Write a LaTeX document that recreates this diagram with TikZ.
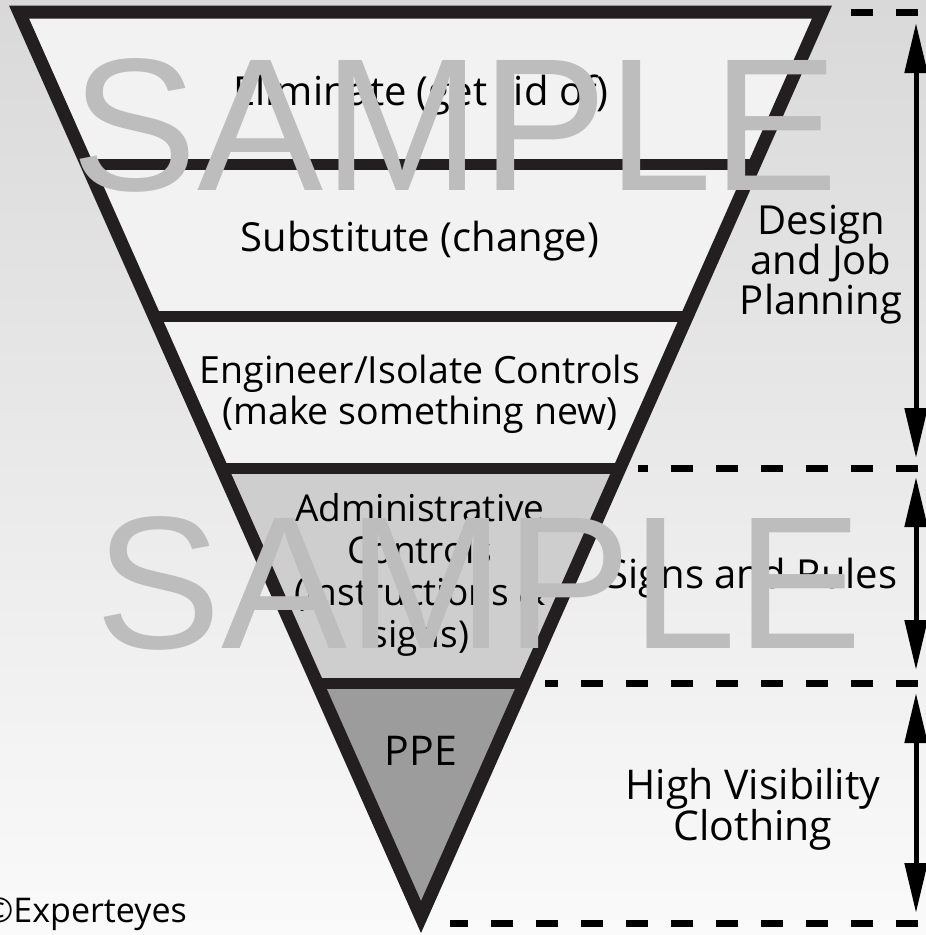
\documentclass[tikz,border=0pt]{standalone}
\usepackage{fontspec}
\setmainfont{Open Sans}
\newfontfamily\wmfont{Liberation Sans}
\usetikzlibrary{calc,arrows.meta}
\definecolor{ink}{HTML}{231F20}
\definecolor{bandlight}{HTML}{F2F2F2}
\definecolor{bandmid}{HTML}{CECECE}
\definecolor{banddark}{HTML}{9C9C9C}
\definecolor{bgtop}{HTML}{D9D9D9}
\definecolor{bgbot}{HTML}{FAFAFA}
\definecolor{stampgray}{HTML}{BDBDBD}
\tikzset{
  outline/.style={draw=ink, line width=13pt, line join=miter},
  divider/.style={draw=ink, line width=11pt},
  guide/.style={draw=black, line width=7pt, dash pattern=on 22pt off 23pt},
  span/.style={draw=black, line width=5pt,
    {Triangle[length=50pt,width=22pt]}-{Triangle[length=50pt,width=22pt]}},
  lab/.style={align=center, inner sep=0pt, text=black, font=\fontsize{40}{42}\selectfont},
  wmark/.style={text=stampgray, inner sep=0pt, font=\wmfont\fontsize{189}{195}\selectfont},
}

\begin{document}
\begin{tikzpicture}[x=1pt,y=-1pt]
  \useasboundingbox (0,0) rectangle (926,935);
  \shade[top color=bgtop, bottom color=bgbot] (0,0) rectangle (926,935);

  \coordinate (TL) at (19,12);
  \coordinate (TR) at (822,12);
  \coordinate (V) at (421,917);

  % band edges on both sides of the funnel
  \foreach \n/\t in {a/0.169,b/0.336,c/0.504,d/0.7425}{
    \coordinate (L\n) at ($(TL)!\t!(V)$);
    \coordinate (R\n) at ($(TR)!\t!(V)$);
  }

  \fill[bandlight] (TL)--(TR)--(Rc)--(Lc)--cycle;
  \fill[bandmid] (Lc)--(Rc)--(Rd)--(Ld)--cycle;
  \fill[banddark] (Ld)--(Rd)--(V)--cycle;

  \foreach \n in {a,b,c,d}
    \draw[divider] (L\n)--(R\n);
  \draw[outline] (TL)--(TR)--(V)--cycle;

  % dashed level marks, drawn from the right
  \foreach \n/\y/\x in {a/12/850,b/468/638,c/683/545,d/923/450}{
    \coordinate (G\n) at (918,\y);
    \coordinate (H\n) at (\x,\y);
    \draw[guide] (G\n)--(H\n);
  }

  \coordinate (DesT) at (916,23);  \coordinate (DesB) at (916,458);
  \coordinate (SigT) at (916,477); \coordinate (SigB) at (916,670);
  \coordinate (VisT) at (916,693); \coordinate (VisB) at (916,913);
  \draw[span] (DesT)--(DesB);
  \draw[span] (SigT)--(SigB);
  \draw[span] (VisT)--(VisB);

  \node[lab] (elim) at (421,95) {Eliminate (get rid of)};
  \node[lab] (subs) at (420,241) {Substitute (change)};
  \node[lab, font=\fontsize{37.5}{41}\selectfont] (engr) at (420,394)
    {Engineer/Isolate Controls\\(make something new)};
  \node[lab, font=\fontsize{37}{42}\selectfont] (admin) at (420,575)
    {Administrative\\Controls\\(instructions \&\\signs)};
  \node[lab, font=\fontsize{41}{42}\selectfont] (ppe) at (421,751) {PPE};

  \node[lab, font=\fontsize{40}{40}\selectfont] (design) at (821,265) {Design\\and Job\\Planning};
  \node[lab] (signs) at (752,578) {Signs and Rules};
  \node[lab, font=\fontsize{41}{41}\selectfont] (hivis) at (753,809) {High Visibility\\Clothing};
  \node[lab, font=\fontsize{34}{34}\selectfont, anchor=base east] (copy) at (187,922) {©Experteyes};

  % watermark
  \node[wmark, anchor=base] (stampa) at (455,190) {SAMPLE};
  \node[wmark, anchor=base] (stampb) at (479,648) {SAMPLE};
\end{tikzpicture}
\end{document}
